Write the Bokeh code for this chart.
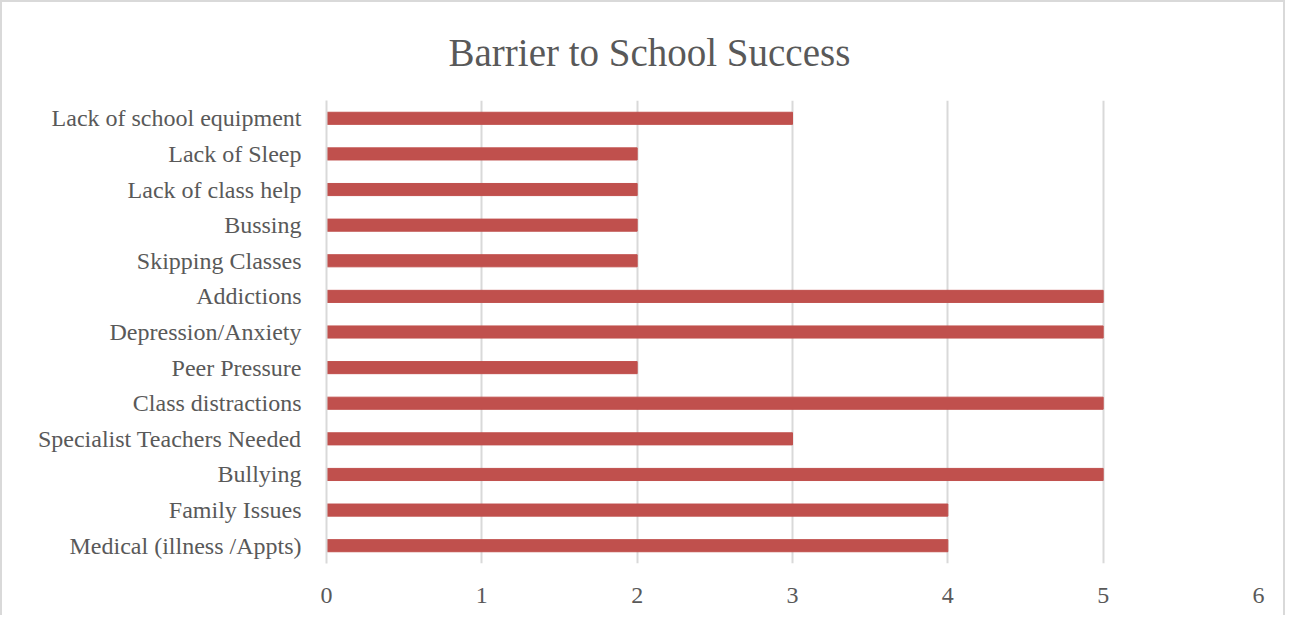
from bokeh.plotting import figure
from bokeh.models import Range1d, FixedTicker
from bokeh.embed import file_html
from bokeh.resources import INLINE

categories = [
    "Lack of school equipment", "Lack of Sleep", "Lack of class help", "Bussing",
    "Skipping Classes", "Addictions", "Depression/Anxiety", "Peer Pressure",
    "Class distractions", "Specialist Teachers Needed", "Bullying", "Family Issues",
    "Medical (illness /Appts)",
]
values = [3, 2, 2, 2, 2, 5, 5, 2, 5, 3, 5, 4, 4]
x_ticks = [0, 1, 2, 3, 4, 5, 6]

FONT = "Liberation Serif"
TXT = "#595959"

factors = list(reversed(categories))
p = figure(y_range=factors, x_range=Range1d(0, 6), width=1285, height=615,
           output_backend="svg", toolbar_location=None,
           min_border_left=324, min_border_right=29, min_border_top=98, min_border_bottom=54,
           title="Barrier to School Success")
p.hbar(y=categories, right=values, left=0, height=0.34, color="#C0504D")

p.title.text_font = FONT
p.title.text_font_size = "39px"
p.title.text_font_style = "normal"
p.title.text_color = TXT
p.title.align = "left"
p.title.offset = 122
p.title.standoff = 53

p.outline_line_color = None
p.xaxis.ticker = FixedTicker(ticks=x_ticks)
p.xgrid.grid_line_color = "#D9D9D9"
p.xgrid.grid_line_width = 2
p.ygrid.grid_line_color = None
p.xaxis.axis_line_color = None
p.xaxis.major_tick_line_color = None
p.xaxis.minor_tick_line_color = None
p.yaxis.axis_line_color = "#D9D9D9"
p.yaxis.axis_line_width = 2
p.yaxis.major_tick_line_color = None
p.yaxis.minor_tick_line_color = None
for ax in (p.xaxis, p.yaxis):
    ax.major_label_text_font = FONT
    ax.major_label_text_font_size = "24px"
    ax.major_label_text_color = TXT
p.xaxis.major_label_standoff = 18
p.yaxis.major_label_standoff = 19
p.y_range.range_padding = 0
p.styles = {"border-top": "2px solid #D9D9D9", "border-left": "2px solid #D9D9D9",
            "border-right": "2px solid #D9D9D9", "box-sizing": "border-box"}

open("out.html", "w").write(file_html(p, INLINE))
